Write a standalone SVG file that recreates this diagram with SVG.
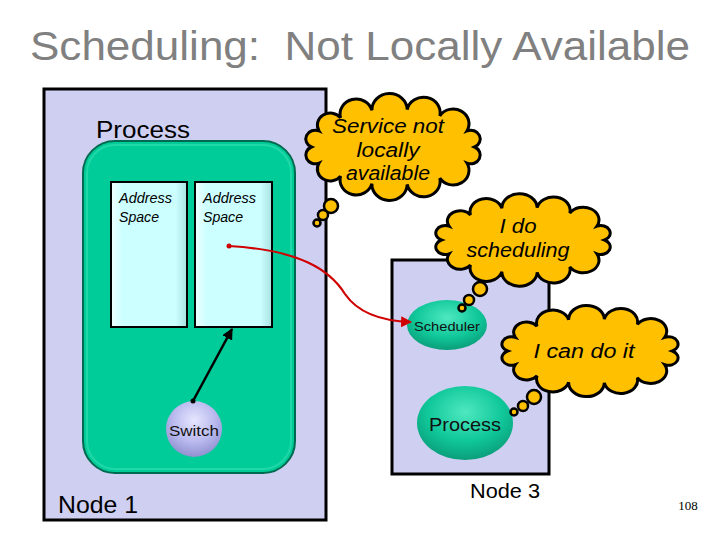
<svg xmlns="http://www.w3.org/2000/svg" xmlns:xlink="http://www.w3.org/1999/xlink" width="720" height="540" viewBox="0 0 720 540">
<style>
.node{fill:#cfcff2;stroke:#000;stroke-width:3}
.cloud{fill:#ffc000;stroke:#000;stroke-width:3;vector-effect:non-scaling-stroke}
.bub{fill:#ffc000;stroke:#000;stroke-width:2.5}
.sans{font-family:"Liberation Sans",Arial,sans-serif}
.ital{font-family:"Liberation Sans",Arial,sans-serif;font-style:italic;fill:#000}
</style>
<defs>
<path id="cloudShape" class="cloud" d="M80,0 A9,9 0 0,1 72.5,16.9 A15.5,15.5 0 0,1 45.9,32.8 A16.3,16.3 0 0,1 13.9,39.4 A17.3,17.3 0 0,1 -20.7,38.6 A15.8,15.8 0 0,1 -51.4,30.6 A12.6,12.6 0 0,1 -72.5,16.9 A9,9 0 0,1 -80,0 A9,9 0 0,1 -72.5,-16.9 A12.6,12.6 0 0,1 -51.4,-30.6 A15.8,15.8 0 0,1 -20.7,-38.6 A17.3,17.3 0 0,1 13.9,-39.4 A16.3,16.3 0 0,1 45.9,-32.8 A15.5,15.5 0 0,1 72.5,-16.9 A9,9 0 0,1 80,0 Z"/>
<linearGradient id="asGrad" x1="0" y1="0" x2="1" y2="0">
<stop offset="0" stop-color="#f0ffff"/><stop offset="0.15" stop-color="#ccffff"/><stop offset="0.85" stop-color="#ccffff"/><stop offset="1" stop-color="#a8e0e0"/>
</linearGradient>
<radialGradient id="tealGrad" cx="0.5" cy="0.35" r="0.65">
<stop offset="0" stop-color="#4fe8c0"/><stop offset="0.6" stop-color="#10c89a"/><stop offset="1" stop-color="#0a9e7a"/>
</radialGradient>
<radialGradient id="lavGrad" cx="0.5" cy="0.35" r="0.65">
<stop offset="0" stop-color="#e6e6ff"/><stop offset="0.6" stop-color="#b8b8ee"/><stop offset="1" stop-color="#9090d0"/>
</radialGradient>
<marker id="arrRed" viewBox="0 0 10 10" refX="9" refY="5" markerWidth="5" markerHeight="5" orient="auto">
<path d="M0,0 L10,5 L0,10 Z" fill="#d00000"/>
</marker>
<marker id="arrBlk" viewBox="0 0 10 10" refX="9" refY="5" markerWidth="4.5" markerHeight="4.5" orient="auto">
<path d="M0,0 L10,5 L0,10 Z" fill="#000"/>
</marker>
</defs>

<text x="360" y="60" text-anchor="middle" class="sans" font-size="40" fill="#808080" xml:space="preserve" textLength="660" lengthAdjust="spacingAndGlyphs">Scheduling:  Not Locally Available</text>

<g id="node1">
<rect class="node" x="44" y="89" width="282" height="431"/>
<text x="58" y="513" class="sans" font-size="24" textLength="80" lengthAdjust="spacingAndGlyphs">Node 1</text>
</g>

<g id="process1">
<text x="96" y="138" class="sans" font-size="23" textLength="94" lengthAdjust="spacingAndGlyphs">Process</text>
<rect x="83" y="141" width="212" height="332" rx="32" ry="32" fill="#00cc99" stroke="#006a50" stroke-width="2"/>
<rect x="87" y="145" width="204" height="324" rx="28" ry="28" fill="none" stroke="#33ddb0" stroke-width="2" opacity="0.6"/>
</g>

<g id="as1">
<rect x="111" y="182" width="76" height="145" fill="url(#asGrad)" stroke="#000" stroke-width="2"/>
<text x="119" y="203" class="ital" font-size="14" textLength="53" lengthAdjust="spacingAndGlyphs">Address</text>
<text x="119" y="222" class="ital" font-size="14" textLength="40" lengthAdjust="spacingAndGlyphs">Space</text>
</g>

<g id="as2">
<rect x="195" y="182" width="77" height="145" fill="url(#asGrad)" stroke="#000" stroke-width="2"/>
<text x="203" y="203" class="ital" font-size="14" textLength="53" lengthAdjust="spacingAndGlyphs">Address</text>
<text x="203" y="222" class="ital" font-size="14" textLength="40" lengthAdjust="spacingAndGlyphs">Space</text>
</g>

<g id="switch">
<circle cx="194" cy="429" r="28" fill="url(#lavGrad)"/>
<text x="194" y="436" text-anchor="middle" class="sans" font-size="14" fill="#111" textLength="50" lengthAdjust="spacingAndGlyphs">Switch</text>
</g>

<g id="node3">
<rect class="node" x="392" y="260" width="157" height="214"/>
<text x="470" y="498" class="sans" font-size="20" textLength="70" lengthAdjust="spacingAndGlyphs">Node 3</text>
</g>

<g id="scheduler">
<ellipse cx="447" cy="325" rx="40" ry="25" fill="url(#tealGrad)"/>
<text x="447" y="331" text-anchor="middle" class="sans" font-size="13" fill="#111" textLength="66" lengthAdjust="spacingAndGlyphs">Scheduler</text>
</g>

<g id="process3">
<ellipse cx="465" cy="423" rx="48" ry="37" fill="url(#tealGrad)"/>
<text x="465" y="431" text-anchor="middle" class="sans" font-size="19" fill="#111" textLength="72" lengthAdjust="spacingAndGlyphs">Process</text>
</g>

<g id="connectors">
<path d="M229,246 C300,250 330,270 345,294 C358,313 380,321 411,322" fill="none" stroke="#d00000" stroke-width="2.2" marker-end="url(#arrRed)"/>
<circle cx="229" cy="246" r="2.5" fill="#d00000"/>
<line x1="193" y1="401" x2="232" y2="329" stroke="#000" stroke-width="2.5" marker-end="url(#arrBlk)"/>
<circle cx="193" cy="401" r="2.5" fill="#000"/>
</g>

<g id="cloud1">
<circle class="bub" cx="317" cy="223" r="3.5"/>
<circle class="bub" cx="323" cy="215" r="5"/>
<circle class="bub" cx="331" cy="206" r="7"/>
<use xlink:href="#cloudShape" transform="translate(393,147) scale(1.02,0.95)"/>
<text x="388" y="133" text-anchor="middle" class="ital" font-size="20" textLength="112" lengthAdjust="spacingAndGlyphs">Service not</text>
<text x="388" y="157" text-anchor="middle" class="ital" font-size="20" textLength="63" lengthAdjust="spacingAndGlyphs">locally</text>
<text x="388" y="180" text-anchor="middle" class="ital" font-size="20" textLength="84" lengthAdjust="spacingAndGlyphs">available</text>
</g>

<g id="cloud2">
<circle class="bub" cx="462" cy="308" r="3.5"/>
<circle class="bub" cx="469" cy="300" r="5"/>
<circle class="bub" cx="480" cy="289" r="7"/>
<use xlink:href="#cloudShape" transform="translate(523,240) scale(1.02,0.82)"/>
<text x="518" y="233" text-anchor="middle" class="ital" font-size="20" textLength="37" lengthAdjust="spacingAndGlyphs">I do</text>
<text x="518" y="257" text-anchor="middle" class="ital" font-size="20" textLength="103" lengthAdjust="spacingAndGlyphs">scheduling</text>
</g>

<g id="cloud3">
<circle class="bub" cx="514" cy="412" r="3.5"/>
<circle class="bub" cx="523" cy="406" r="5"/>
<circle class="bub" cx="534" cy="397" r="7"/>
<use xlink:href="#cloudShape" transform="translate(590,351) scale(1.03,0.81)"/>
<text x="584" y="358" text-anchor="middle" class="ital" font-size="20" textLength="101" lengthAdjust="spacingAndGlyphs">I can do it</text>
</g>

<text x="688" y="510" text-anchor="middle" font-family="Liberation Serif,serif" font-size="13">108</text>
</svg>
